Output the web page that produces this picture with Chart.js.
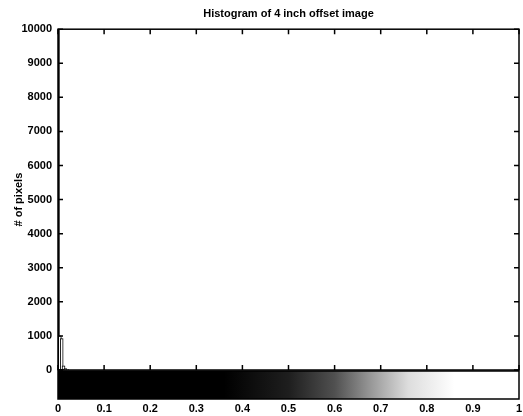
<!DOCTYPE html>
<html>
<head>
<meta charset="utf-8">
<script src="https://cdn.jsdelivr.net/npm/chart.js@4.4.0/dist/chart.umd.min.js"></script>
<style>
  html, body { margin: 0; padding: 0; background: #fff; }
  #wrap { width: 523px; height: 416px; }
</style>
</head>
<body>
<div id="wrap"><canvas id="hist" width="523" height="416"></canvas></div>
<script>
// Histogram bins (intensity centre) and pixel counts
const binCenters = [0, 0.004, 0.008, 0.012, 0.016, 0.020];
const pixelCounts = [10000, 1000, 920, 120, 40, 15];

const xTicks = [0, 0.1, 0.2, 0.3, 0.4, 0.5, 0.6, 0.7, 0.8, 0.9, 1];
const yTicks = [0, 1000, 2000, 3000, 4000, 5000, 6000, 7000, 8000, 9000, 10000];

// MATLAB style box, inward ticks and the gray colour bar under the axes
const matlabAxes = {
  id: 'matlabAxes',
  afterDraw(chart) {
    const ctx = chart.ctx;
    const a = chart.chartArea;
    const xs = chart.scales.x, ys = chart.scales.y;
    ctx.save();
    ctx.strokeStyle = '#000';
    ctx.lineWidth = 1.5;
    ctx.strokeRect(a.left, a.top, a.right - a.left, a.bottom - a.top);

    xTicks.forEach(v => {
      const px = xs.getPixelForValue(v);
      ctx.beginPath();
      ctx.moveTo(px, a.bottom); ctx.lineTo(px, a.bottom - 5);
      ctx.moveTo(px, a.top); ctx.lineTo(px, a.top + 5);
      ctx.stroke();
    });
    yTicks.forEach(v => {
      const py = ys.getPixelForValue(v);
      ctx.beginPath();
      ctx.moveTo(a.left, py); ctx.lineTo(a.left + 5, py);
      ctx.moveTo(a.right, py); ctx.lineTo(a.right - 5, py);
      ctx.stroke();
    });

    // colour bar
    const top = a.bottom + 1, h = 28;
    const x0 = xs.getPixelForValue(0), x1 = xs.getPixelForValue(1);
    const g = ctx.createLinearGradient(x0, 0, x1, 0);
    g.addColorStop(0, '#000');
    g.addColorStop(0.36, '#000');
    g.addColorStop(0.5, '#1e1e1e');
    g.addColorStop(0.6, '#505050');
    g.addColorStop(0.68, '#999');
    g.addColorStop(0.76, '#ddd');
    g.addColorStop(0.86, '#fff');
    g.addColorStop(1, '#fff');
    ctx.fillStyle = g;
    ctx.fillRect(x0, top, x1 - x0, h);
    ctx.lineWidth = 1.5;
    ctx.strokeRect(x0, top, x1 - x0, h);
    ctx.restore();
  }
};

new Chart(document.getElementById('hist').getContext('2d'), {
  type: 'bar',
  data: {
    datasets: [{
      label: '# of pixels',
      data: binCenters.map((c, i) => ({ x: c, y: pixelCounts[i] })),
      backgroundColor: binCenters.map((c, i) => i === 0 ? '#000' : '#fff'),
      borderColor: '#000',
      borderWidth: 1,
      barThickness: 3,
      borderSkipped: false
    }]
  },
  options: {
    responsive: false,
    animation: false,
    devicePixelRatio: 1,
    layout: { padding: { left: 0, right: 4, top: 0, bottom: 0 } },
    plugins: {
      legend: { display: false },
      tooltip: { enabled: false },
      title: {
        display: true,
        fullSize: false,
        text: 'Histogram of 4 inch offset image',
        color: '#000',
        font: { family: 'Liberation Sans', size: 11, weight: 'bold' },
        padding: { top: 7, bottom: 9 }
      }
    },
    scales: {
      x: {
        type: 'linear',
        min: 0,
        max: 1,
        offset: false,
        grid: { display: false, drawTicks: false },
        border: { display: false },
        afterBuildTicks: s => { s.ticks = xTicks.map(v => ({ value: v })); },
        afterFit: s => { s.height = 46; s.paddingLeft = 0; s.paddingRight = 0; },
        ticks: {
          padding: 32,
          color: '#000',
          maxRotation: 0,
          font: { family: 'Liberation Sans', size: 11, weight: 'bold' },
          callback: v => String(v)
        }
      },
      y: {
        min: 0,
        max: 10000,
        grid: { display: false, drawTicks: false },
        border: { display: false },
        afterBuildTicks: s => { s.ticks = yTicks.map(v => ({ value: v })); },
        afterFit: s => { s.width = 58; },
        ticks: {
          padding: 6,
          color: '#000',
          font: { family: 'Liberation Sans', size: 11, weight: 'bold' },
          callback: v => String(v)
        },
        title: {
          display: true,
          text: '# of pixels',
          color: '#000',
          font: { family: 'Liberation Sans', size: 11, weight: 'bold' },
          padding: { top: 12, bottom: 4 }
        }
      }
    }
  },
  plugins: [matlabAxes]
});
</script>
</body>
</html>
